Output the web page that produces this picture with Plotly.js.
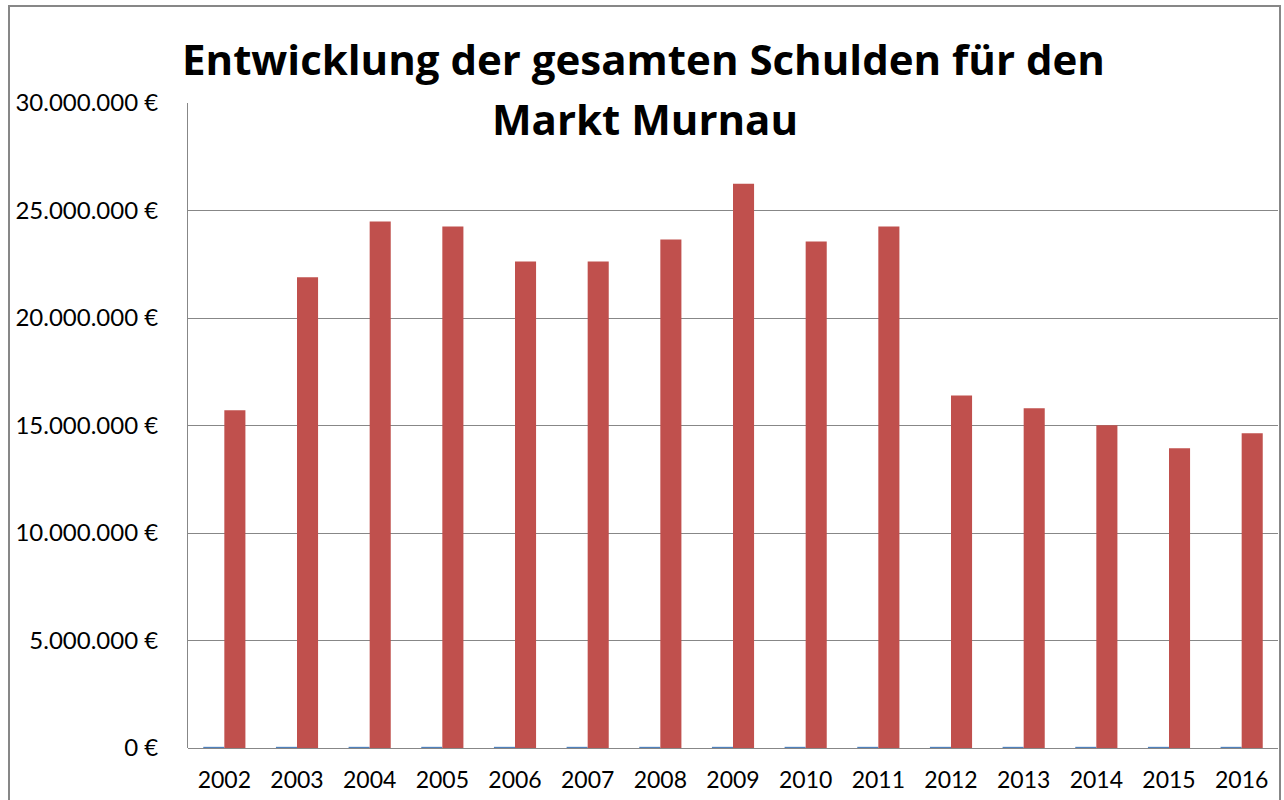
<!DOCTYPE html>
<html>
<head>
<meta charset="utf-8">
<script src="https://cdn.plot.ly/plotly-3.0.1.min.js"></script>
<style>
html, body { margin: 0; padding: 0; background: #ffffff; }
#chart { width: 1284px; height: 800px; }
</style>
</head>
<body>
<div id="chart"></div>
<script>
// Data
var years = ["2002","2003","2004","2005","2006","2007","2008","2009","2010","2011","2012","2013","2014","2015","2016"];
var smallSeries = [55000,55000,55000,55000,55000,55000,55000,55000,55000,55000,55000,55000,55000,55000,55000];
var debts = [15710000,21890000,24490000,24260000,22630000,22630000,23650000,26250000,23560000,24260000,16400000,15800000,15010000,13940000,14640000];
var yTickVals = [0, 5000000, 10000000, 15000000, 20000000, 25000000, 30000000];
var yTickText = ["0 €", "5.000.000 €", "10.000.000 €", "15.000.000 €", "20.000.000 €", "25.000.000 €", "30.000.000 €"];
var titleLine1 = "Entwicklung der gesamten Schulden für den";
var titleLine2 = "Markt Murnau";

var W = 1284, H = 800;
var L = 188, R = 6, T = 103, B = 52;
var pw = W - L - R, ph = H - T - B;
function px(x) { return (x - L) / pw; }
function py(y) { return (H - B - y) / ph; }

var traces = [
  { type: 'bar', x: years, y: smallSeries, name: 'Reihe1',
    marker: { color: '#4F81BD' }, hoverinfo: 'x+y' },
  { type: 'bar', x: years, y: debts, name: 'Reihe2',
    marker: { color: '#C0504D' }, hoverinfo: 'x+y' }
];

var gridCol = '#878787';
var layout = {
  width: W, height: H,
  margin: { l: L, r: R, t: T, b: B, pad: 0 },
  paper_bgcolor: '#ffffff',
  plot_bgcolor: '#ffffff',
  showlegend: false,
  barmode: 'group',
  bargap: 0.42,
  bargroupgap: 0,
  font: { family: 'Lato, "Open Sans", sans-serif', color: '#000000' },
  xaxis: {
    type: 'category',
    showgrid: false,
    showline: false,
    zeroline: false,
    ticks: '',
    tickfont: { size: 23, family: 'Lato, sans-serif', color: '#000000' },
    ticklabelstandoff: 16
  },
  yaxis: {
    range: [0, 30000000],
    tickmode: 'array',
    tickvals: yTickVals,
    ticktext: yTickText,
    showgrid: true,
    gridcolor: gridCol,
    gridwidth: 1,
    zeroline: true,
    zerolinecolor: gridCol,
    zerolinewidth: 1,
    showline: true,
    linecolor: gridCol,
    linewidth: 1,
    ticks: '',
    tickfont: { size: 24, family: 'Lato, sans-serif', color: '#000000' },
    ticklabelstandoff: 24
  },
  shapes: [
    { type: 'rect', xref: 'paper', yref: 'paper',
      x0: px(9), x1: px(1280), y0: py(820), y1: py(6),
      line: { color: gridCol, width: 2 }, fillcolor: 'rgba(0,0,0,0)', layer: 'above' }
  ],
  annotations: [
    { text: titleLine1, xref: 'paper', yref: 'paper',
      x: px(643), y: py(58), xanchor: 'center', yanchor: 'middle',
      showarrow: false,
      font: { size: 42, family: '"Open Sans", Lato, sans-serif', weight: 'bold', color: '#000000' } },
    { text: titleLine2, xref: 'paper', yref: 'paper',
      x: px(645), y: py(118), xanchor: 'center', yanchor: 'middle',
      showarrow: false,
      font: { size: 42, family: '"Open Sans", Lato, sans-serif', weight: 'bold', color: '#000000' } }
  ]
};

Plotly.newPlot('chart', traces, layout, { displayModeBar: false, staticPlot: true });
</script>
</body>
</html>
